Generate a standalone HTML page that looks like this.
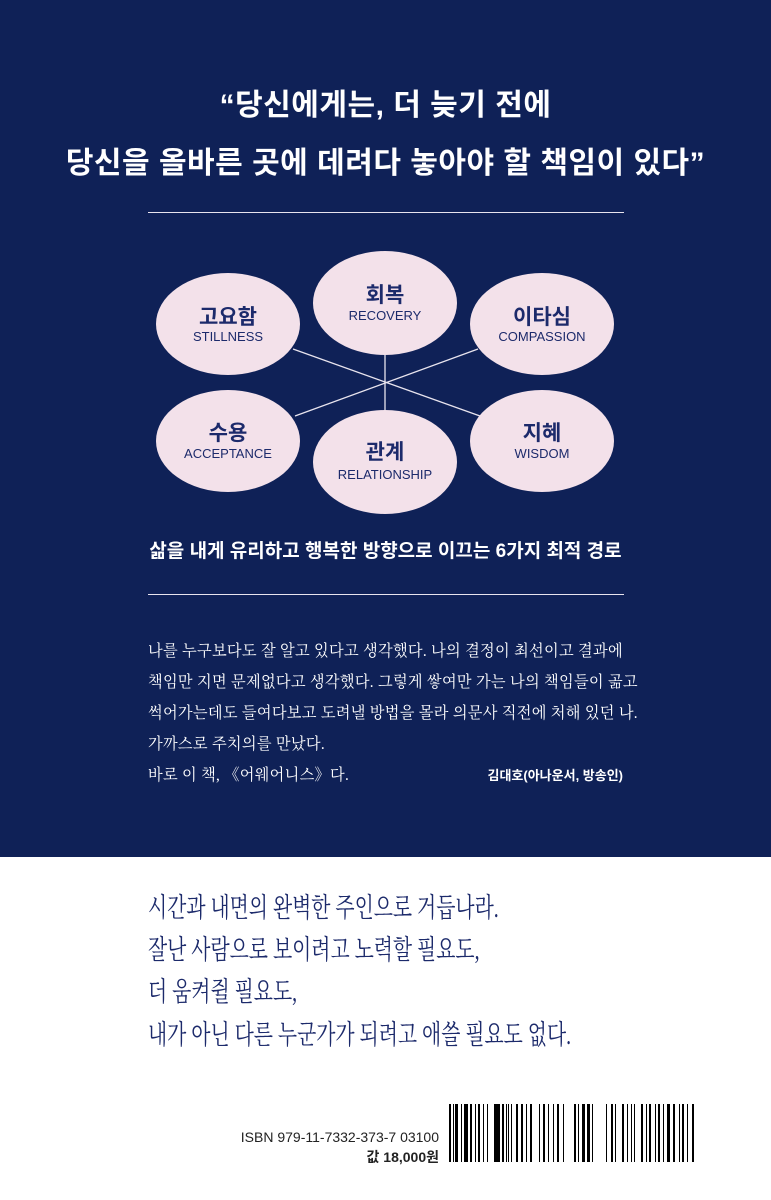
<!DOCTYPE html>
<html><head><meta charset="utf-8"><style>
body{margin:0;width:771px;height:1200px;position:relative;background:#fff;font-family:"Liberation Sans","Noto Sans CJK KR",sans-serif;overflow:hidden}
.top{position:absolute;left:0;top:0;width:771px;height:857px;background:#0f2157}
.q{position:absolute;left:0;width:771px;text-align:center;color:#fff;font-weight:bold;font-size:30px;letter-spacing:0.5px}
.rule{position:absolute;left:148px;width:476px;height:1px;background:#e8e4ee}
.p{position:absolute;left:148px;color:#fff;font-family:"Liberation Serif","Noto Serif CJK SC",serif;font-size:16px;white-space:nowrap;letter-spacing:0.3px;transform:scaleX(0.95);transform-origin:left}
.b{position:absolute;left:148px;color:#1c2a6b;font-family:"Liberation Serif","Noto Serif CJK SC",serif;font-size:27px;white-space:nowrap;transform:scaleX(0.735);transform-origin:left}
</style></head><body>
<div class="top"></div>
<div class="q" style="top:80px">“당신에게는, 더 늦기 전에</div>
<div class="q" style="top:138px">당신을 올바른 곳에 데려다 놓아야 할 책임이 있다”</div>
<div class="rule" style="top:212px"></div>
<svg style="position:absolute;left:0;top:0" width="771" height="857">
<g stroke="#e8e4ee" stroke-width="1.3">
<line x1="293" y1="349" x2="480" y2="416"/>
<line x1="478" y1="349" x2="295" y2="416"/>
<line x1="385" y1="352" x2="385" y2="412"/>
</g>
<g fill="#f3e1ea">
<ellipse cx="228" cy="324" rx="72" ry="51"/>
<ellipse cx="385" cy="303" rx="72" ry="52"/>
<ellipse cx="542" cy="324" rx="72" ry="51"/>
<ellipse cx="228" cy="441" rx="72" ry="51"/>
<ellipse cx="385" cy="462" rx="72" ry="52"/>
<ellipse cx="542" cy="441" rx="72" ry="51"/>
</g>
<g fill="#1c2a6b" text-anchor="middle" font-family="Liberation Sans,Noto Sans CJK KR,sans-serif">
<text x="228" y="324" font-size="21" font-weight="bold">고요함</text>
<text x="228" y="341" font-size="13">STILLNESS</text>
<text x="385" y="302" font-size="21" font-weight="bold">회복</text>
<text x="385" y="320" font-size="13">RECOVERY</text>
<text x="542" y="324" font-size="21" font-weight="bold">이타심</text>
<text x="542" y="341" font-size="13">COMPASSION</text>
<text x="228" y="440" font-size="21" font-weight="bold">수용</text>
<text x="228" y="458" font-size="13">ACCEPTANCE</text>
<text x="385" y="459" font-size="21" font-weight="bold">관계</text>
<text x="385" y="479" font-size="13">RELATIONSHIP</text>
<text x="542" y="440" font-size="21" font-weight="bold">지혜</text>
<text x="542" y="458" font-size="13">WISDOM</text>
</g>
</svg>
<div style="position:absolute;left:0;width:771px;top:536px;text-align:center;color:#fff;font-weight:bold;font-size:19px">삶을 내게 유리하고 행복한 방향으로 이끄는 6가지 최적 경로</div>
<div class="rule" style="top:594px"></div>
<div class="p" style="top:638px">나를 누구보다도 잘 알고 있다고 생각했다. 나의 결정이 최선이고 결과에</div>
<div class="p" style="top:669px">책임만 지면 문제없다고 생각했다. 그렇게 쌓여만 가는 나의 책임들이 곪고</div>
<div class="p" style="top:700px">썩어가는데도 들여다보고 도려낼 방법을 몰라 의문사 직전에 처해 있던 나.</div>
<div class="p" style="top:731px">가까스로 주치의를 만났다.</div>
<div class="p" style="top:762px">바로 이 책, 《어웨어니스》다.</div>
<div style="position:absolute;right:148px;top:765px;color:#fff;font-size:13px;font-weight:bold">김대호(아나운서, 방송인)</div>
<div class="b" style="top:886px">시간과 내면의 완벽한 주인으로 거듭나라.</div>
<div class="b" style="top:928px">잘난 사람으로 보이려고 노력할 필요도,</div>
<div class="b" style="top:970px">더 움켜쥘 필요도,</div>
<div class="b" style="top:1013px">내가 아닌 다른 누군가가 되려고 애쓸 필요도 없다.</div>
<div style="position:absolute;right:332px;top:1127px;font-size:14px;color:#222;text-align:right;line-height:20px">ISBN 979-11-7332-373-7 03100<br><b>값 18,000원</b></div>
<svg style="position:absolute;left:449px;top:1104px" width="252" height="58">
<g fill="#000">
<rect x="0" y="0" width="2" height="58"/><rect x="4" y="0" width="1" height="58"/><rect x="6" y="0" width="3" height="58"/><rect x="12" y="0" width="1" height="58"/><rect x="15" y="0" width="4" height="58"/><rect x="21" y="0" width="2" height="58"/><rect x="26" y="0" width="1" height="58"/><rect x="29" y="0" width="2" height="58"/><rect x="34" y="0" width="1" height="58"/><rect x="38" y="0" width="1" height="58"/><rect x="45" y="0" width="6" height="58"/><rect x="53" y="0" width="2" height="58"/><rect x="57" y="0" width="1" height="58"/><rect x="59" y="0" width="1" height="58"/><rect x="62" y="0" width="1" height="58"/><rect x="67" y="0" width="2" height="58"/><rect x="72" y="0" width="2" height="58"/><rect x="77" y="0" width="1" height="58"/><rect x="81" y="0" width="2" height="58"/><rect x="90" y="0" width="1" height="58"/><rect x="94" y="0" width="2" height="58"/><rect x="99" y="0" width="1" height="58"/><rect x="104" y="0" width="1" height="58"/><rect x="108" y="0" width="2" height="58"/><rect x="114" y="0" width="1" height="58"/><rect x="125" y="0" width="2" height="58"/><rect x="129" y="0" width="1" height="58"/><rect x="133" y="0" width="3" height="58"/><rect x="138" y="0" width="3" height="58"/><rect x="143" y="0" width="1" height="58"/><rect x="157" y="0" width="1" height="58"/><rect x="162" y="0" width="2" height="58"/><rect x="166" y="0" width="1" height="58"/><rect x="173" y="0" width="2" height="58"/><rect x="178" y="0" width="1" height="58"/><rect x="182" y="0" width="1" height="58"/><rect x="185" y="0" width="1" height="58"/><rect x="192" y="0" width="2" height="58"/><rect x="197" y="0" width="1" height="58"/><rect x="200" y="0" width="2" height="58"/><rect x="206" y="0" width="1" height="58"/><rect x="209" y="0" width="2" height="58"/><rect x="214" y="0" width="1" height="58"/><rect x="218" y="0" width="3" height="58"/><rect x="224" y="0" width="2" height="58"/><rect x="230" y="0" width="1" height="58"/><rect x="233" y="0" width="2" height="58"/><rect x="238" y="0" width="1" height="58"/><rect x="243" y="0" width="2" height="58"/>
</g>
</svg>
</body></html>
